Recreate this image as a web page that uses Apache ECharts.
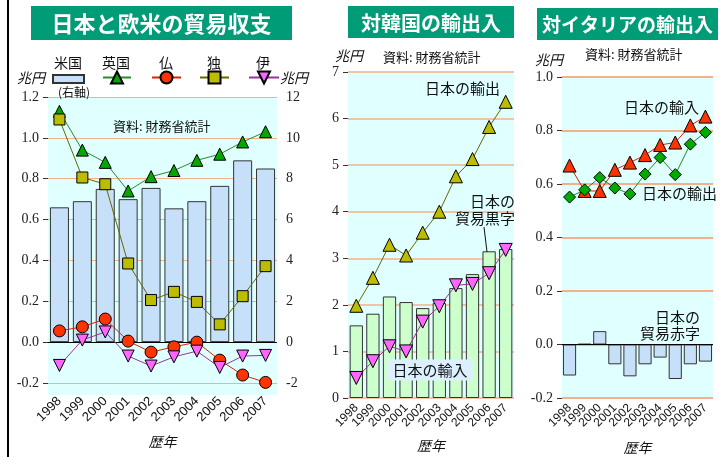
<!DOCTYPE html>
<html>
<head>
<meta charset="utf-8">
<script src="https://cdn.jsdelivr.net/npm/echarts@6/dist/echarts.min.js"></script>
<style>
html, body { margin: 0; padding: 0; background: #fff; }
#chart { width: 727px; height: 457px; }
</style>
</head>
<body>
<div id="chart"></div>
<script>
// 歴年
var years = ['1998', '1999', '2000', '2001', '2002', '2003', '2004', '2005', '2006', '2007'];

// 日本と欧米の貿易収支 (兆円, 米国は右軸)
var usBalance = [6.6, 6.9, 7.5, 7.0, 7.55, 6.55, 6.9, 7.65, 8.9, 8.5];
var ukBalance = [1.13, 0.94, 0.88, 0.74, 0.81, 0.84, 0.89, 0.92, 0.98, 1.03];
var frBalance = [0.055, 0.075, 0.113, 0.005, -0.049, -0.023, 0.0, -0.088, -0.161, -0.197];
var deBalance = [1.09, 0.806, 0.773, 0.385, 0.206, 0.246, 0.197, 0.087, 0.225, 0.372];
var itBalance = [-0.114, 0.01, 0.05, -0.068, -0.117, -0.072, -0.044, -0.124, -0.068, -0.065];

// 対韓国の輸出入 (兆円)
var krSurplus = [1.56, 1.81, 2.18, 2.06, 1.93, 2.04, 2.36, 2.66, 3.15, 3.2];
var krExport = [1.98, 2.58, 3.29, 3.06, 3.55, 4.0, 4.76, 5.13, 5.82, 6.36];
var krImport = [0.43, 0.79, 1.11, 1.0, 1.64, 1.97, 2.42, 2.45, 2.68, 3.18];

// 対イタリアの輸出入 (兆円)
var itTrade = [-0.116, 0.002, 0.05, -0.074, -0.119, -0.074, -0.049, -0.129, -0.074, -0.064];
var itImport = [0.669, 0.574, 0.574, 0.653, 0.68, 0.708, 0.746, 0.755, 0.819, 0.852];
var itExport = [0.551, 0.578, 0.624, 0.585, 0.563, 0.637, 0.699, 0.635, 0.749, 0.793];

var cjk = '"Noto Sans CJK JP", "Noto Sans", sans-serif';
var serif = '"Liberation Serif", "DejaVu Serif", serif';
var sans = '"Liberation Sans", Arial, sans-serif';
var gridColor = '#f4b08c';
var bgColor = '#e0ffff';

var chart = echarts.init(document.getElementById('chart'));

function xAxis(gi, fontSize, margin, nameGap) {
    return {
        type: 'category', gridIndex: gi, data: years, position: 'bottom',
        axisLine: { show: false }, axisTick: { show: false },
        axisLabel: { interval: 0, rotate: 45, fontFamily: sans, fontSize: fontSize, color: '#111', margin: margin },
        name: '歴年', nameLocation: 'middle', nameGap: nameGap,
        nameTextStyle: { fontFamily: cjk, fontSize: 14, fontStyle: 'italic', color: '#111' }
    };
}

function yAxis(gi, min, max, interval, digits, lineWidth) {
    return {
        type: 'value', gridIndex: gi, min: min, max: max, interval: interval,
        axisLine: { show: false },
        axisTick: { show: true, length: 5, lineStyle: { color: '#333' } },
        axisLabel: {
            fontFamily: serif, fontSize: 14, color: '#222', margin: 9,
            formatter: function (v) { return v.toFixed(digits); }
        },
        splitLine: { lineStyle: { color: gridColor, width: lineWidth } }
    };
}

var zeroLine = {
    silent: true, symbol: 'none',
    label: { show: false },
    lineStyle: { color: '#000', type: 'solid', width: 1 },
    data: [{ yAxis: 0 }]
};

function lineSeries(name, data, xi, yi, symbol, size, fill, stroke, rotate) {
    return {
        name: name, type: 'line', xAxisIndex: xi, yAxisIndex: yi, data: data,
        symbol: symbol, symbolSize: size, symbolRotate: rotate || 0, showAllSymbol: true,
        itemStyle: { color: fill, borderColor: '#000', borderWidth: 1 },
        lineStyle: { color: stroke, width: 1 },
        z: 5
    };
}

function barSeries(name, data, xi, yi, width, fill, markZero) {
    var s = {
        name: name, type: 'bar', xAxisIndex: xi, yAxisIndex: yi, data: data,
        barWidth: width,
        itemStyle: { color: fill, borderColor: '#333', borderWidth: 1 }
    };
    if (markZero) s.markLine = zeroLine;
    return s;
}

function legendItem(name, left, top, w, h, icon) {
    var l = {
        data: [name], left: left, top: top, padding: 0,
        itemWidth: w, itemHeight: h, selectedMode: false,
        formatter: function () { return ''; }
    };
    if (icon) l.icon = icon;
    return l;
}

function text(str, x, y, size, opts) {
    opts = opts || {};
    return {
        type: 'text', x: x, y: y, z: 20,
        style: {
            text: str, fontFamily: cjk, fontSize: size, fill: opts.color || '#111',
            fontStyle: opts.italic ? 'italic' : 'normal', fontWeight: opts.bold ? 'bold' : 'normal',
            textAlign: opts.align || 'left', textVerticalAlign: 'middle',
            lineHeight: opts.lineHeight, backgroundColor: opts.bg, padding: opts.padding
        }
    };
}

function titleBox(str, x, y, w, h, size) {
    return [
        { type: 'rect', shape: { x: x, y: y, width: w, height: h }, style: { fill: '#009b77' }, z: 10 },
        text(str, x + w / 2, y + h / 2 + 1, size, { color: '#fff', bold: true, align: 'center' })
    ];
}

option = {
    animation: false,
    backgroundColor: '#fff',
    grid: [
        { left: 48, right: 450, top: 97, bottom: 74, show: true, backgroundColor: bgColor, borderWidth: 0, outerBoundsMode: 'none' },
        { left: 348, right: 213, top: 72, bottom: 59, show: true, backgroundColor: bgColor, borderWidth: 0, outerBoundsMode: 'none' },
        { left: 562, right: 14, top: 77, bottom: 59, show: true, backgroundColor: bgColor, borderWidth: 0, outerBoundsMode: 'none' }
    ],
    xAxis: [xAxis(0, 13, 16, 52), xAxis(1, 12, 8, 41), xAxis(2, 12, 8, 43)],
    yAxis: [
        yAxis(0, -0.2, 1.2, 0.2, 1, 1),
        {
            type: 'value', gridIndex: 0, min: -2, max: 12, interval: 2, position: 'right',
            axisLine: { show: false }, axisTick: { show: false }, splitLine: { show: false },
            axisLabel: { fontFamily: serif, fontSize: 14, color: '#222', margin: 9 }
        },
        yAxis(1, 0, 7, 1, 0, 1.5),
        yAxis(2, -0.2, 1.0, 0.2, 1, 2)
    ],
    legend: [
        legendItem('米国', 52, 74, 31, 8, 'rect'),
        legendItem('英国', 102, 70, 28, 15),
        legendItem('仏', 151, 70, 29, 15),
        legendItem('独', 199, 70, 29, 15),
        legendItem('伊', 248, 70, 30, 15)
    ],
    series: [
        barSeries('米国', usBalance, 0, 1, '83%', '#c6e0fa', true),
        lineSeries('英国', ukBalance, 0, 0, 'triangle', 12, '#00a800', '#2a8a2a'),
        lineSeries('仏', frBalance, 0, 0, 'circle', 12, '#ff3300', '#dd2200'),
        lineSeries('独', deBalance, 0, 0, 'rect', 11, '#bcbc00', '#666600'),
        lineSeries('伊', itBalance, 0, 0, 'triangle', 12, '#ff66ff', '#993399', 180),

        barSeries('日本の貿易黒字', krSurplus, 1, 2, '80%', '#ccffcc', false),
        lineSeries('日本の輸出(韓国)', krExport, 1, 2, 'triangle', 13, '#bcbc00', '#666600'),
        lineSeries('日本の輸入(韓国)', krImport, 1, 2, 'triangle', 13, '#ff66ff', '#993399', 180),

        barSeries('日本の貿易赤字', itTrade, 2, 3, '87%', '#c6e0fa', true),
        lineSeries('日本の輸入(伊)', itImport, 2, 3, 'triangle', 13, '#ff3300', '#dd2200'),
        lineSeries('日本の輸出(伊)', itExport, 2, 3, 'diamond', 12, '#00aa00', '#228822')
    ],
    graphic: [
        { type: 'rect', shape: { x: 7, y: 0, width: 2, height: 457 }, style: { fill: '#000' } },
        { type: 'rect', shape: { x: 48, y: 383, width: 229, height: 12 }, style: { fill: bgColor }, z: -1 }
    ]
        .concat(titleBox('日本と欧米の貿易収支', 31, 6, 261, 34, 22))
        .concat(titleBox('対韓国の輸出入', 348, 6, 166, 32, 20))
        .concat(titleBox('対イタリアの輸出入', 537, 8, 181, 32, 19))
        .concat([
            text('米国', 68, 63, 14, { align: 'center' }),
            text('英国', 116, 63, 14, { align: 'center' }),
            text('仏', 166, 63, 14, { align: 'center' }),
            text('独', 214, 63, 14, { align: 'center' }),
            text('伊', 263, 63, 14, { align: 'center' }),
            text('(右軸)', 74, 92, 12, { align: 'center' }),
            text('兆円', 17, 78, 14, { italic: true }),
            text('兆円', 280, 78, 14, { italic: true }),
            text('資料: 財務省統計', 113, 126, 13),

            text('兆円', 335, 56, 14, { italic: true }),
            text('資料: 財務省統計', 383, 57, 13),
            text('日本の輸出', 425, 88, 15),
            text('日本の\n貿易黒字', 515, 210, 15, { align: 'right', lineHeight: 17 }),
            { type: 'line', shape: { x1: 484, y1: 227, x2: 487, y2: 252 }, style: { stroke: '#111', lineWidth: 1 }, z: 20 },
            text('日本の輸入', 430, 370, 15, { align: 'center', bg: '#dcefff', padding: [3, 5] }),

            text('兆円', 535, 60, 14, { italic: true }),
            text('資料: 財務省統計', 585, 54, 13),
            text('日本の輸入', 624, 107, 15),
            text('日本の輸出', 642, 193, 15),
            text('日本の\n貿易赤字', 700, 325, 15, { align: 'right', lineHeight: 16 })
        ])
};

chart.setOption(option);
</script>
</body>
</html>
